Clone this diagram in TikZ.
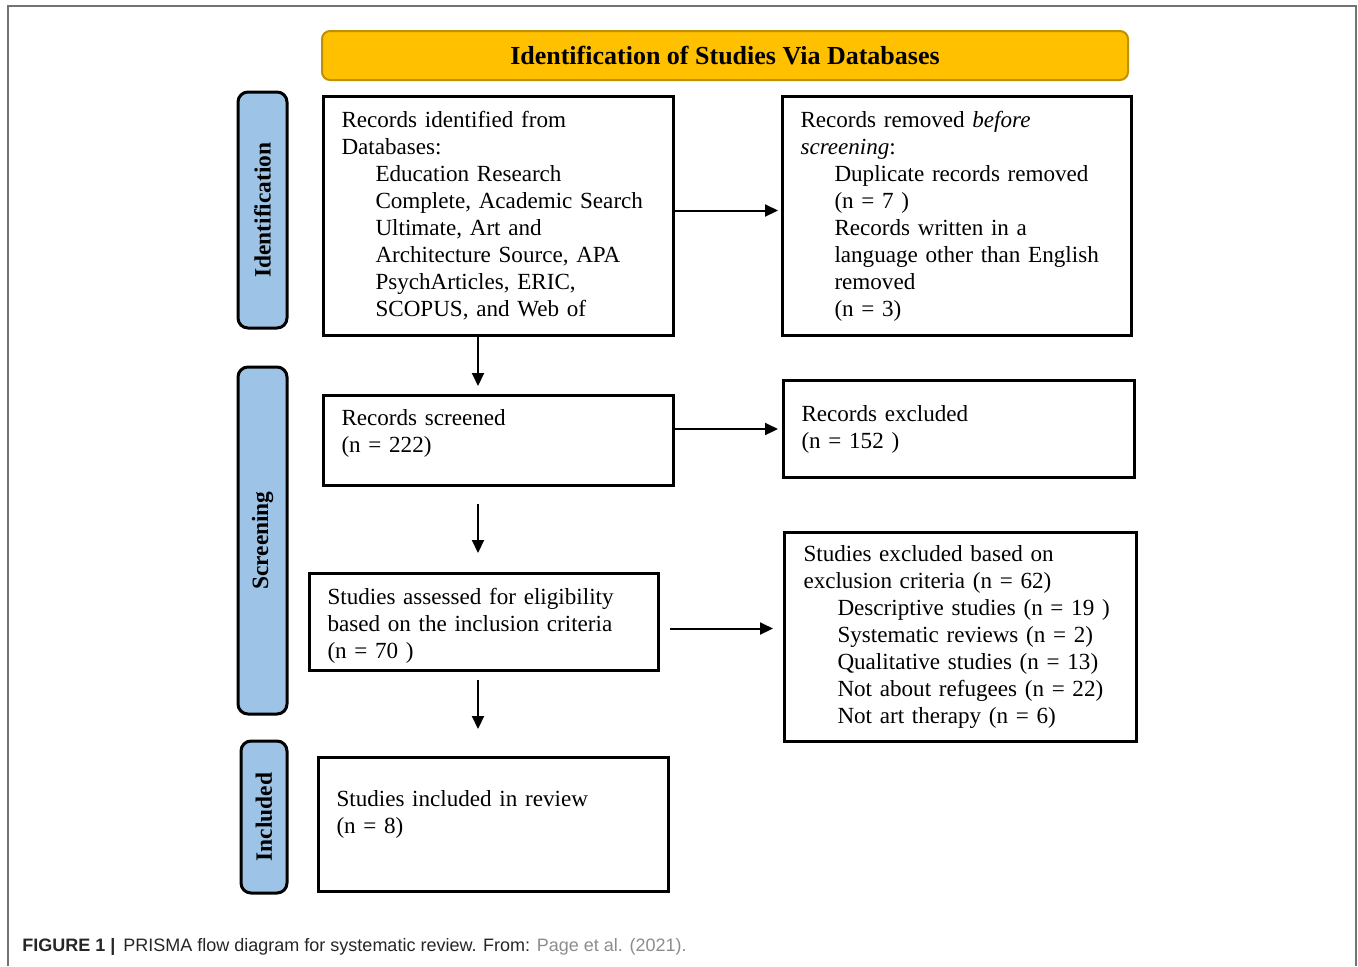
\documentclass[tikz,border=0pt]{standalone}
\usepackage{fontspec}
\setmainfont{Liberation Serif}
\setsansfont{Liberation Sans}
\usepackage{xcolor}
\usetikzlibrary{arrows.meta}

\definecolor{headfill}{HTML}{FFC000}
\definecolor{headline}{HTML}{BF9000}
\definecolor{sidefill}{HTML}{9DC3E6}
\definecolor{capgray}{HTML}{8C8C8C}
\newcommand{\ind}{\hspace*{17pt}}

\begin{document}
\begin{tikzpicture}[x=0.5pt, y=-0.5pt,
    font=\fontsize{11.55}{13.5}\selectfont,
    box/.style={draw, rectangle, line width=1.5pt, anchor=north west, align=left, inner xsep=9pt, inner ysep=0pt},
    stage/.style={draw, rectangle, rounded corners=5pt, line width=1.5pt, fill=sidefill, rotate=90, inner sep=0pt, font=\fontsize{11.7}{13.5}\selectfont\bfseries},
    arr/.style={-{Triangle[length=6.5pt, width=6pt]}, line width=1pt}]
      \useasboundingbox (0,0) rectangle (1358,966);
      \draw[line width=1pt, black!55] (8,966) -- (8,6) -- (1356,6) -- (1356,966);

      % header and stages
      \node (head) [draw=headline, fill=headfill, rectangle, rounded corners=4pt, line width=1pt, minimum width=403pt, minimum height=24.5pt, font=\fontsize{13}{15}\selectfont\bfseries] at (725,55.5) {Identification of Studies Via Databases};
      \node (ident) [stage, minimum width=118pt, minimum height=24.5pt] at (262.5,210) {Identification};
      \node (screen) [stage, minimum width=173.5pt, minimum height=24.5pt] at (262.5,540.5) {Screening};
      \node (incl) [stage, minimum width=76pt, minimum height=23pt] at (264,817) {Included};

      % boxes
      \node (found) [box, text width=157pt, minimum height=119.5pt] at (322,95) {Records identified from\\ Databases:\\ \ind Education Research\\ \ind Complete, Academic Search\\ \ind Ultimate, Art and\\ \ind Architecture Source, APA\\ \ind PsychArticles, ERIC,\\ \ind SCOPUS, and Web of};
      \node (removed) [box, text width=156.5pt, minimum height=119.5pt] at (781,95) {Records removed \textit{before}\\ \textit{screening}:\\ \ind Duplicate records removed\\ \ind (n = 7 )\\ \ind Records written in a\\ \ind language other than English\\ \ind removed\\ \ind (n = 3)};
      \node (screened) [box, text width=157pt, minimum height=45pt] at (322,394) {Records screened\\ (n = 222)\\[-3.5pt]\mbox{}};
      \node (excl) [box, text width=157.5pt, minimum height=48.5pt] at (782,379) {Records excluded\\ (n = 152 )};
      \node (assess) [box, text width=156.5pt, minimum height=48.5pt] at (308,572) {\mbox{}\\[-2pt]Studies assessed for eligibility\\ based on the inclusion criteria\\ (n = 70 )};
      \node (crit) [box, text width=157pt, minimum height=104.5pt, inner xsep=9.5pt] at (783,531) {Studies excluded based on\\ exclusion criteria (n = 62)\\ \ind Descriptive studies (n = 19 )\\ \ind Systematic reviews (n = 2)\\ \ind Qualitative studies (n = 13)\\ \ind Not about refugees (n = 22)\\ \ind Not art therapy (n = 6)};
      \node (review) [box, text width=157pt, minimum height=67pt] at (317,756) {Studies included in review\\ (n = 8)\\[-1pt]\mbox{}};

      \coordinate (col) at (478,0);

      % arrows
      \draw[arr, shorten >=1.5pt] ([yshift=2.75pt]found.east) -- ([yshift=2.75pt]found.east -| removed.west);
      \draw[arr, shorten >=4pt] (found.south -| col) -- (screened.north -| col);
      \draw[arr, shorten >=2pt] (screened.east |- excl.west) -- (excl.west);
      \draw[arr, shorten <=8.5pt, shorten >=9.5pt] (screened.south -| col) -- (assess.north -| col);
      \draw[arr, shorten <=5pt, shorten >=5pt] ([yshift=-3.25pt]assess.east) -- ([yshift=-3.25pt]assess.east -| crit.west);
      \draw[arr, shorten <=4pt, shorten >=13.5pt] (assess.south -| col) -- (review.north -| col);

      \node (cap) [anchor=west, inner sep=0pt, text=black!85, font=\sffamily\fontsize{9}{11}\selectfont] at (22,947) {\textbf{FIGURE 1 |}\, PRISMA flow diagram for systematic review. From: \textcolor{capgray}{Page et al. (2021).}};
    \end{tikzpicture}
\end{document}
